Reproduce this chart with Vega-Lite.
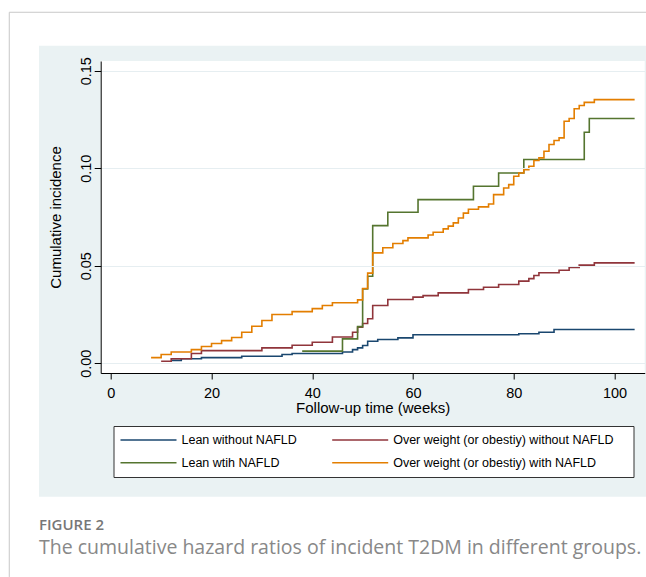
{
  "$schema": "https://vega.github.io/schema/vega-lite/v6.json",
  "width": 544,
  "height": 312,
  "autosize": {"type": "none"},
  "padding": {"left": 100.7, "top": 61, "right": 1.3, "bottom": 204},
  "background": "white",
  "config": {"view": {"stroke": null}, "font": "Liberation Sans"},
  "title": {
    "text": "FIGURE 2",
    "subtitle": "The cumulative hazard ratios of incident T2DM in different groups.",
    "orient": "bottom",
    "anchor": "start",
    "frame": "group",
    "dx": -61.7,
    "offset": -59.5,
    "font": "Open Sans",
    "fontSize": 15,
    "fontWeight": 600,
    "color": "#777777",
    "subtitleFont": "Open Sans",
    "subtitleFontSize": 19.5,
    "subtitleColor": "#888888",
    "subtitlePadding": 6
  },
  "layer": [
    {
      "data": {"values": [{}]},
      "mark": {"type": "rule", "color": "#c8c8c8", "strokeWidth": 1, "clip": false},
      "encoding": {
        "x": {"datum": -20.15, "type": "quantitative"},
        "x2": {"datum": 106.3},
        "y": {"datum": 0.18, "type": "quantitative"}
      }
    },
    {
      "data": {"values": [{}]},
      "mark": {"type": "rule", "color": "#c8c8c8", "strokeWidth": 1, "clip": false},
      "encoding": {
        "x": {"datum": -20.15, "type": "quantitative"},
        "y": {"datum": 0.18, "type": "quantitative"},
        "y2": {"datum": -0.1096}
      }
    },
    {
      "data": {"values": [{}]},
      "mark": {"type": "rect", "color": "#eaf2f3", "clip": false},
      "encoding": {
        "x": {"datum": -14.25, "type": "quantitative"},
        "x2": {"datum": 106.3},
        "y": {"datum": 0.16285, "type": "quantitative"},
        "y2": {"datum": -0.06844}
      }
    },
    {
      "data": {"values": [{}]},
      "mark": {"type": "rect", "color": "#ffffff", "clip": false},
      "encoding": {
        "x": {"datum": -2, "type": "quantitative"},
        "x2": {"datum": 106},
        "y": {"datum": -0.005, "type": "quantitative"},
        "y2": {"datum": 0.155}
      }
    },
    {
      "data": {"values": [
        {"group": "Lean without NAFLD", "week": 12, "inc": 0.0015},
        {"group": "Lean without NAFLD", "week": 14, "inc": 0.0023},
        {"group": "Lean without NAFLD", "week": 18, "inc": 0.0029},
        {"group": "Lean without NAFLD", "week": 26, "inc": 0.0036},
        {"group": "Lean without NAFLD", "week": 34, "inc": 0.0045},
        {"group": "Lean without NAFLD", "week": 36, "inc": 0.005},
        {"group": "Lean without NAFLD", "week": 46, "inc": 0.0058},
        {"group": "Lean without NAFLD", "week": 48, "inc": 0.007},
        {"group": "Lean without NAFLD", "week": 49, "inc": 0.0079},
        {"group": "Lean without NAFLD", "week": 50, "inc": 0.0091},
        {"group": "Lean without NAFLD", "week": 51, "inc": 0.0113},
        {"group": "Lean without NAFLD", "week": 53, "inc": 0.0122},
        {"group": "Lean without NAFLD", "week": 57, "inc": 0.013},
        {"group": "Lean without NAFLD", "week": 60, "inc": 0.0146},
        {"group": "Lean without NAFLD", "week": 81, "inc": 0.0151},
        {"group": "Lean without NAFLD", "week": 85, "inc": 0.0159},
        {"group": "Lean without NAFLD", "week": 88, "inc": 0.0173},
        {"group": "Lean without NAFLD", "week": 104, "inc": 0.0173},

        {"group": "Over weight (or obestiy) without NAFLD", "week": 10, "inc": 0.001},
        {"group": "Over weight (or obestiy) without NAFLD", "week": 12, "inc": 0.0023},
        {"group": "Over weight (or obestiy) without NAFLD", "week": 16, "inc": 0.005},
        {"group": "Over weight (or obestiy) without NAFLD", "week": 18, "inc": 0.0065},
        {"group": "Over weight (or obestiy) without NAFLD", "week": 30, "inc": 0.0079},
        {"group": "Over weight (or obestiy) without NAFLD", "week": 36, "inc": 0.0092},
        {"group": "Over weight (or obestiy) without NAFLD", "week": 40, "inc": 0.0108},
        {"group": "Over weight (or obestiy) without NAFLD", "week": 44, "inc": 0.0135},
        {"group": "Over weight (or obestiy) without NAFLD", "week": 48, "inc": 0.0159},
        {"group": "Over weight (or obestiy) without NAFLD", "week": 49, "inc": 0.0185},
        {"group": "Over weight (or obestiy) without NAFLD", "week": 50, "inc": 0.0204},
        {"group": "Over weight (or obestiy) without NAFLD", "week": 51, "inc": 0.0228},
        {"group": "Over weight (or obestiy) without NAFLD", "week": 52, "inc": 0.0296},
        {"group": "Over weight (or obestiy) without NAFLD", "week": 55, "inc": 0.0327},
        {"group": "Over weight (or obestiy) without NAFLD", "week": 60, "inc": 0.0339},
        {"group": "Over weight (or obestiy) without NAFLD", "week": 62, "inc": 0.0347},
        {"group": "Over weight (or obestiy) without NAFLD", "week": 65, "inc": 0.0361},
        {"group": "Over weight (or obestiy) without NAFLD", "week": 71, "inc": 0.0378},
        {"group": "Over weight (or obestiy) without NAFLD", "week": 74, "inc": 0.039},
        {"group": "Over weight (or obestiy) without NAFLD", "week": 77, "inc": 0.0404},
        {"group": "Over weight (or obestiy) without NAFLD", "week": 81, "inc": 0.0421},
        {"group": "Over weight (or obestiy) without NAFLD", "week": 83, "inc": 0.0434},
        {"group": "Over weight (or obestiy) without NAFLD", "week": 84, "inc": 0.045},
        {"group": "Over weight (or obestiy) without NAFLD", "week": 85, "inc": 0.0464},
        {"group": "Over weight (or obestiy) without NAFLD", "week": 89, "inc": 0.0477},
        {"group": "Over weight (or obestiy) without NAFLD", "week": 91, "inc": 0.0491},
        {"group": "Over weight (or obestiy) without NAFLD", "week": 93, "inc": 0.0503},
        {"group": "Over weight (or obestiy) without NAFLD", "week": 96, "inc": 0.0515},
        {"group": "Over weight (or obestiy) without NAFLD", "week": 104, "inc": 0.0515},

        {"group": "Lean wtih NAFLD", "week": 38, "inc": 0.0062},
        {"group": "Lean wtih NAFLD", "week": 46, "inc": 0.0125},
        {"group": "Lean wtih NAFLD", "week": 49, "inc": 0.0188},
        {"group": "Lean wtih NAFLD", "week": 50, "inc": 0.0381},
        {"group": "Lean wtih NAFLD", "week": 51, "inc": 0.0446},
        {"group": "Lean wtih NAFLD", "week": 52, "inc": 0.0706},
        {"group": "Lean wtih NAFLD", "week": 55, "inc": 0.0774},
        {"group": "Lean wtih NAFLD", "week": 61, "inc": 0.0839},
        {"group": "Lean wtih NAFLD", "week": 72, "inc": 0.0908},
        {"group": "Lean wtih NAFLD", "week": 77, "inc": 0.0976},
        {"group": "Lean wtih NAFLD", "week": 82, "inc": 0.1045},
        {"group": "Lean wtih NAFLD", "week": 94, "inc": 0.1185},
        {"group": "Lean wtih NAFLD", "week": 95, "inc": 0.1255},
        {"group": "Lean wtih NAFLD", "week": 104, "inc": 0.1255},

        {"group": "Over weight (or obestiy) with NAFLD", "week": 8, "inc": 0.0029},
        {"group": "Over weight (or obestiy) with NAFLD", "week": 10, "inc": 0.0045},
        {"group": "Over weight (or obestiy) with NAFLD", "week": 12, "inc": 0.0058},
        {"group": "Over weight (or obestiy) with NAFLD", "week": 16, "inc": 0.007},
        {"group": "Over weight (or obestiy) with NAFLD", "week": 18, "inc": 0.0086},
        {"group": "Over weight (or obestiy) with NAFLD", "week": 20, "inc": 0.0101},
        {"group": "Over weight (or obestiy) with NAFLD", "week": 22, "inc": 0.0116},
        {"group": "Over weight (or obestiy) with NAFLD", "week": 24, "inc": 0.0132},
        {"group": "Over weight (or obestiy) with NAFLD", "week": 26, "inc": 0.0159},
        {"group": "Over weight (or obestiy) with NAFLD", "week": 28, "inc": 0.019},
        {"group": "Over weight (or obestiy) with NAFLD", "week": 30, "inc": 0.0219},
        {"group": "Over weight (or obestiy) with NAFLD", "week": 32, "inc": 0.025},
        {"group": "Over weight (or obestiy) with NAFLD", "week": 36, "inc": 0.0265},
        {"group": "Over weight (or obestiy) with NAFLD", "week": 40, "inc": 0.028},
        {"group": "Over weight (or obestiy) with NAFLD", "week": 42, "inc": 0.0296},
        {"group": "Over weight (or obestiy) with NAFLD", "week": 44, "inc": 0.031},
        {"group": "Over weight (or obestiy) with NAFLD", "week": 49, "inc": 0.0325},
        {"group": "Over weight (or obestiy) with NAFLD", "week": 50, "inc": 0.0383},
        {"group": "Over weight (or obestiy) with NAFLD", "week": 51, "inc": 0.0462},
        {"group": "Over weight (or obestiy) with NAFLD", "week": 52, "inc": 0.0566},
        {"group": "Over weight (or obestiy) with NAFLD", "week": 54, "inc": 0.0592},
        {"group": "Over weight (or obestiy) with NAFLD", "week": 56, "inc": 0.0614},
        {"group": "Over weight (or obestiy) with NAFLD", "week": 58, "inc": 0.0629},
        {"group": "Over weight (or obestiy) with NAFLD", "week": 59, "inc": 0.0643},
        {"group": "Over weight (or obestiy) with NAFLD", "week": 63, "inc": 0.0658},
        {"group": "Over weight (or obestiy) with NAFLD", "week": 64, "inc": 0.0672},
        {"group": "Over weight (or obestiy) with NAFLD", "week": 66, "inc": 0.0689},
        {"group": "Over weight (or obestiy) with NAFLD", "week": 67, "inc": 0.0703},
        {"group": "Over weight (or obestiy) with NAFLD", "week": 68, "inc": 0.072},
        {"group": "Over weight (or obestiy) with NAFLD", "week": 69, "inc": 0.0745},
        {"group": "Over weight (or obestiy) with NAFLD", "week": 70, "inc": 0.077},
        {"group": "Over weight (or obestiy) with NAFLD", "week": 71, "inc": 0.079},
        {"group": "Over weight (or obestiy) with NAFLD", "week": 73, "inc": 0.0802},
        {"group": "Over weight (or obestiy) with NAFLD", "week": 75, "inc": 0.0817},
        {"group": "Over weight (or obestiy) with NAFLD", "week": 76, "inc": 0.0865},
        {"group": "Over weight (or obestiy) with NAFLD", "week": 78, "inc": 0.0899},
        {"group": "Over weight (or obestiy) with NAFLD", "week": 79, "inc": 0.0916},
        {"group": "Over weight (or obestiy) with NAFLD", "week": 80, "inc": 0.0959},
        {"group": "Over weight (or obestiy) with NAFLD", "week": 81, "inc": 0.0976},
        {"group": "Over weight (or obestiy) with NAFLD", "week": 82, "inc": 0.0993},
        {"group": "Over weight (or obestiy) with NAFLD", "week": 83, "inc": 0.101},
        {"group": "Over weight (or obestiy) with NAFLD", "week": 84, "inc": 0.104},
        {"group": "Over weight (or obestiy) with NAFLD", "week": 85, "inc": 0.1053},
        {"group": "Over weight (or obestiy) with NAFLD", "week": 86, "inc": 0.1087},
        {"group": "Over weight (or obestiy) with NAFLD", "week": 87, "inc": 0.1122},
        {"group": "Over weight (or obestiy) with NAFLD", "week": 88, "inc": 0.1142},
        {"group": "Over weight (or obestiy) with NAFLD", "week": 89, "inc": 0.1156},
        {"group": "Over weight (or obestiy) with NAFLD", "week": 90, "inc": 0.1241},
        {"group": "Over weight (or obestiy) with NAFLD", "week": 91, "inc": 0.1255},
        {"group": "Over weight (or obestiy) with NAFLD", "week": 92, "inc": 0.1305},
        {"group": "Over weight (or obestiy) with NAFLD", "week": 93, "inc": 0.1322},
        {"group": "Over weight (or obestiy) with NAFLD", "week": 94, "inc": 0.1338},
        {"group": "Over weight (or obestiy) with NAFLD", "week": 96, "inc": 0.1352},
        {"group": "Over weight (or obestiy) with NAFLD", "week": 104, "inc": 0.1352}
      ]},
      "mark": {"type": "line", "interpolate": "step-after", "strokeWidth": 1.6},
      "encoding": {
        "x": {
          "field": "week", "type": "quantitative",
          "scale": {"domain": [-2, 106], "nice": false, "zero": false},
          "axis": {
            "values": [0, 20, 40, 60, 80, 100],
            "title": "Follow-up time (weeks)",
            "grid": false, "zindex": 1, "labelFlush": false,
            "domainColor": "#000000", "tickColor": "#000000", "tickSize": 6,
            "labelPadding": 7, "labelFontSize": 14.5, "labelColor": "#000000", "labelFont": "Liberation Sans",
            "titleFontSize": 15, "titleFontWeight": "normal", "titleColor": "#000000", "titleFont": "Liberation Sans", "titlePadding": 1
          }
        },
        "y": {
          "field": "inc", "type": "quantitative",
          "scale": {"domain": [-0.005, 0.155], "nice": false, "zero": false},
          "axis": {
            "values": [0, 0.05, 0.1, 0.15], "format": ".2f",
            "title": "Cumulative incidence",
            "grid": true, "gridColor": "#e6eef1", "gridWidth": 1, "zindex": 1,
            "domainColor": "#000000", "tickColor": "#000000", "tickSize": 6.5,
            "labelAngle": 270, "labelAlign": "center", "labelBaseline": "alphabetic", "labelPadding": 4,
            "labelFontSize": 14.5, "labelColor": "#000000", "labelFont": "Liberation Sans",
            "titleFontSize": 15, "titleFontWeight": "normal", "titleColor": "#000000", "titleFont": "Liberation Sans", "titlePadding": 15
          }
        },
        "color": {
          "field": "group", "type": "nominal",
          "scale": {
            "domain": ["Lean without NAFLD", "Lean wtih NAFLD", "Over weight (or obestiy) without NAFLD", "Over weight (or obestiy) with NAFLD"],
            "range": ["#1a476f", "#55752f", "#90353b", "#e37e00"]
          },
          "legend": {
            "orient": "none", "legendX": 12.8, "legendY": 365,
            "columns": 2, "columnPadding": 33.7, "rowPadding": 6.8, "clipHeight": 16,
            "padding": 6, "fillColor": "#ffffff", "strokeColor": "#333333",
            "symbolType": "stroke", "symbolSize": 3136, "symbolStrokeWidth": 1.5,
            "labelFontSize": 12.5, "labelFont": "Liberation Sans", "labelColor": "#000000", "labelOffset": 4, "labelLimit": 0,
            "title": " ", "titleOrient": "right", "titlePadding": 14, "titleFontSize": 12.5
          }
        }
      }
    }
  ]
}
